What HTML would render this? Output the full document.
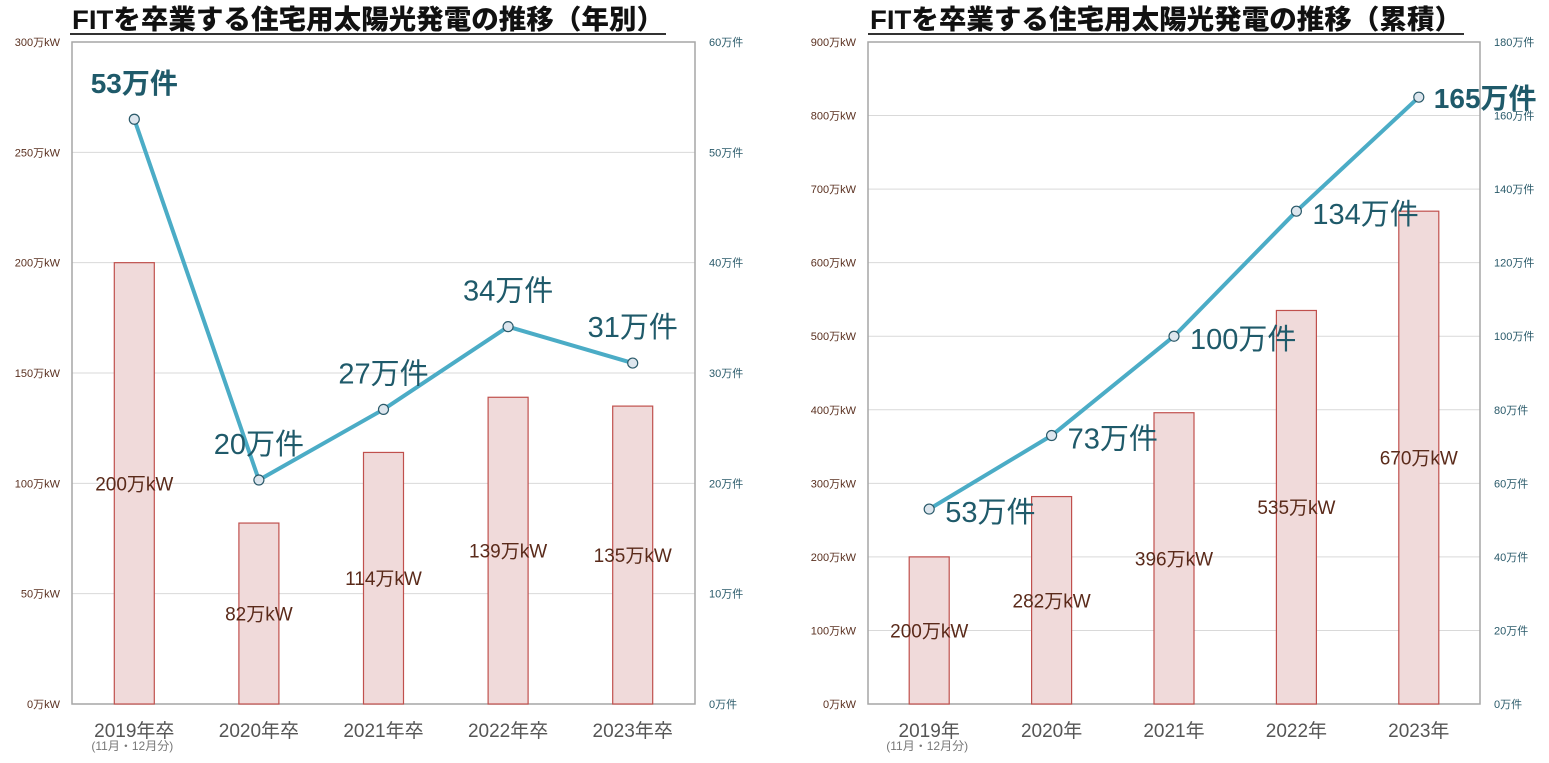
<!DOCTYPE html>
<html><head><meta charset="utf-8">
<style>
body{margin:0;background:#fff;width:1549px;height:758px;overflow:hidden;font-family:"Liberation Sans","Noto Sans CJK JP",sans-serif;}
svg text{font-family:"Liberation Sans","Noto Sans CJK JP",sans-serif;}
</style></head>
<body>
<svg id="c" width="1549" height="758" xmlns="http://www.w3.org/2000/svg"></svg>
<script>
const catsA=["2019年卒","2020年卒","2021年卒","2022年卒","2023年卒"];
const barsA=[200,82,114,139,135];
const lineA=[53,20.3,26.7,34.2,30.9];
const lineLabA=["53万件","20万件","27万件","34万件","31万件"];
const barLabA=["200万kW","82万kW","114万kW","139万kW","135万kW"];
const ticksLA=[0,50,100,150,200,250,300];
const ticksRA=[0,10,20,30,40,50,60];
const catsB=["2019年","2020年","2021年","2022年","2023年"];
const barsB=[200,282,396,535,670];
const lineB=[53,73,100,134,165];
const lineLabB=["53万件","73万件","100万件","134万件","165万件"];
const barLabB=["200万kW","282万kW","396万kW","535万kW","670万kW"];
const ticksLB=[0,100,200,300,400,500,600,700,800,900];
const ticksRB=[0,20,40,60,80,100,120,140,160,180];

const svg=document.getElementById('c');
const NS="http://www.w3.org/2000/svg";
function mk(tag,attrs,txt){const e=document.createElementNS(NS,tag);for(const k in attrs)e.setAttribute(k,attrs[k]);if(txt!==undefined)e.textContent=txt;svg.appendChild(e);return e;}

function chart(o){
  const x0=o.x0,x1=o.x1,yT=42,yB=704;
  const yL=v=>yB-(v/o.maxL)*(yB-yT);
  const yR=v=>yB-(v/o.maxR)*(yB-yT);
  const step=(x1-x0)/o.cats.length;
  const xc=i=>x0+step*(i+0.5);
  let t=mk('text',{x:o.tx,y:29,'font-size':27,'font-weight':'900',fill:'#111',textLength:592,lengthAdjust:'spacingAndGlyphs'},o.title);
  
  
  let u=mk('line',{x1:o.tx-2,x2:o.tx+594,y1:34,y2:34,stroke:'#333','stroke-width':2});
  
  
  o.ticksL.forEach((v,i)=>{
    if(v>0&&v<o.maxL){let g=mk('line',{x1:x0,x2:x1,y1:yL(v),y2:yL(v),stroke:'#d9d9d9','stroke-width':1});
    
    }
    let l=mk('text',{x:x0-12,y:yL(v)+4,'font-size':11,'text-anchor':'end',fill:'#5a3020'},v+'万kW');
    
    
  });
  o.ticksR.forEach(v=>{
    let l=mk('text',{x:x1+14,y:yR(v)+4,'font-size':11,fill:'#2a5a6a'},v+'万件');
    
    
  });
  let f=mk('rect',{x:x0,y:yT,width:x1-x0,height:yB-yT,fill:'none',stroke:'#a6a6a6','stroke-width':1.5});
  
  
  o.bars.forEach((v,i)=>{
    let b=mk('rect',{x:xc(i)-20,y:yL(v),width:40,height:yB-yL(v),fill:'#f0dada',stroke:'#c0504d','stroke-width':1.2});
    
    
    let l=mk('text',{x:xc(i),y:(yL(v)+yB)/2+7,'font-size':19,'text-anchor':'middle',fill:'#5a2a1a'},o.barLab[i]);
    
    
    let c=mk('text',{x:xc(i),y:737,'font-size':19,'text-anchor':'middle',fill:'#555'},o.cats[i]);
    
    
  });
  let s=mk('text',{x:xc(0)-2,y:750,'font-size':12,'text-anchor':'middle',fill:'#777'},'(11月・12月分)');
  
  
  const pts=o.line.map((v,i)=>xc(i)+','+yR(v)).join(' ');
  let pl=mk('polyline',{points:pts,fill:'none',stroke:'#4bacc6','stroke-width':4,'stroke-linejoin':'round'});
  
  
  o.line.forEach((v,i)=>{
    let p=mk('circle',{cx:xc(i),cy:yR(v),r:5,fill:'#dde6ee',stroke:'#2b5a6a','stroke-width':1.2});
    
    
    const pos=o.labPos(i,xc(i),yR(v));
    let l=mk('text',{x:pos[0],y:pos[1],'font-size':pos[3]?28:29,'text-anchor':pos[2],fill:'#1f5a6a','font-weight':pos[3]?'bold':'normal'},o.lineLab[i]);
    
    
  });
}
chart({id:'annual',x0:72,x1:695,tx:72,title:'FITを卒業する住宅用太陽光発電の推移（年別）',cats:catsA,bars:barsA,line:lineA,lineLab:lineLabA,barLab:barLabA,ticksL:ticksLA,ticksR:ticksRA,maxL:300,maxR:60,
 labPos:(i,x,y)=> i===0?[x,y-26,'middle',true]:[x,y-26,'middle',false]});
chart({id:'cumulative',x0:868,x1:1480,tx:870,title:'FITを卒業する住宅用太陽光発電の推移（累積）',cats:catsB,bars:barsB,line:lineB,lineLab:lineLabB,barLab:barLabB,ticksL:ticksLB,ticksR:ticksRB,maxL:900,maxR:180,
 labPos:(i,x,y)=> i===4?[x+15,y+11,'start',true]:[x+16,y+13,'start',false]});
</script>
</body></html>
